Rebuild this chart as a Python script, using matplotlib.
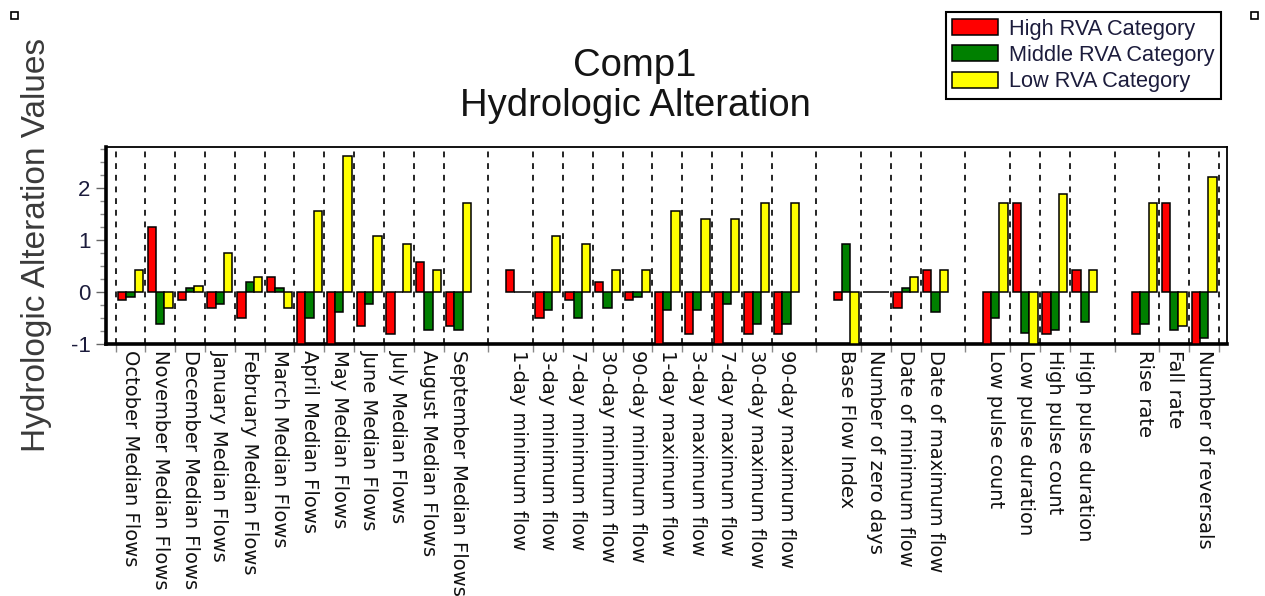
import matplotlib
matplotlib.use('Agg')
import numpy as np
import matplotlib.pyplot as plt
from matplotlib.patches import Rectangle
from matplotlib.ticker import MultipleLocator, FixedLocator

plt.rcParams['axes.unicode_minus'] = False

parameters = ['October Median Flows', 'November Median Flows', 'December Median Flows',
              'January Median Flows', 'February Median Flows', 'March Median Flows',
              'April Median Flows', 'May Median Flows', 'June Median Flows',
              'July Median Flows', 'August Median Flows', 'September Median Flows',
              '1-day minimum flow', '3-day minimum flow', '7-day minimum flow',
              '30-day minimum flow', '90-day minimum flow', '1-day maximum flow',
              '3-day maximum flow', '7-day maximum flow', '30-day maximum flow',
              '90-day maximum flow',
              'Base Flow Index', 'Number of zero days', 'Date of minimum flow',
              'Date of maximum flow',
              'Low pulse count', 'Low pulse duration', 'High pulse count',
              'High pulse duration',
              'Rise rate', 'Fall rate', 'Number of reversals']
group_sizes = [12, 10, 4, 4, 3]

high_rva = [-0.15, 1.24, -0.15, -0.31, -0.51, 0.28, -1.0, -1.0, -0.65, -0.81, 0.58, -0.65,
            0.42, -0.51, -0.15, 0.19, -0.15, -1.0, -0.81, -1.0, -0.81, -0.81,
            -0.15, 0.0, -0.31, 0.42,
            -1.0, 1.71, -0.81, 0.42,
            -0.81, 1.71, -1.0]
middle_rva = [-0.10, -0.62, 0.08, -0.23, 0.19, 0.08, -0.51, -0.39, -0.23, 0.0, -0.73, -0.74,
              0.0, -0.35, -0.51, -0.31, -0.10, -0.35, -0.35, -0.23, -0.62, -0.62,
              0.92, 0.0, 0.08, -0.39,
              -0.51, -0.78, -0.74, -0.57,
              -0.62, -0.74, -0.89]
low_rva = [0.42, -0.31, 0.12, 0.74, 0.28, -0.31, 1.56, 2.60, 1.08, 0.92, 0.42, 1.71,
           0.0, 1.08, 0.92, 0.42, 0.42, 1.56, 1.40, 1.40, 1.71, 1.71,
           -1.0, 0.0, 0.28, 0.42,
           1.71, -1.0, 1.87, 0.42,
           1.71, -0.65, 2.21]

# slot positions: one empty slot between the groups
xpos = []
grid_x = []
slot = 0
for g, n in enumerate(group_sizes):
    if g == 0:
        grid_x.append(slot - 0.5)
    else:
        grid_x.append(slot - 1)  # dashed line in the middle of the empty slot
    for i in range(n):
        xpos.append(slot + i)
        if i < n - 1:
            grid_x.append(slot + i + 0.5)
    slot += n + 1
grid_x.append(xpos[-1] + 0.5)
xpos = np.array(xpos)

W, H = 1265, 596
fig = plt.figure(figsize=(W / 100, H / 100), dpi=100)
ax = fig.add_axes([106 / W, (H - 344) / H, (1227 - 106) / W, (344 - 147) / H])

bw = 0.28
kw = dict(width=bw, edgecolor='black', linewidth=1.1, zorder=3)
ax.bar(xpos - bw, high_rva, color='#ff0000', label='High RVA Category', **kw)
ax.bar(xpos, middle_rva, color='#008000', label='Middle RVA Category', **kw)
ax.bar(xpos + bw, low_rva, color='#ffff00', label='Low RVA Category', **kw)

for gx in grid_x:
    ax.axvline(gx, color='black', linestyle=(0, (3.5, 3.5)), linewidth=1.2, zorder=1)

ax.set_xlim(-0.82, 36.77)
ax.set_ylim(-1, 2.78)

ax.set_xticks(xpos)
ax.set_xticklabels(parameters, rotation=-90, ha='center', va='top',
                   fontsize=14, family='DejaVu Sans', color='#111111')
ax.tick_params(axis='x', which='major', length=0, pad=4)
ax.xaxis.set_minor_locator(FixedLocator(grid_x))
ax.tick_params(axis='x', which='minor', length=6, width=1, color='#888888', direction='out')

ax.yaxis.set_major_locator(MultipleLocator(1))
ax.yaxis.set_minor_locator(MultipleLocator(0.25))
ax.tick_params(axis='y', which='major', length=7, width=1, color='#666666',
               labelsize=16, pad=4)
ax.tick_params(axis='y', which='minor', length=4, width=1, color='#888888')
for lab in ax.get_yticklabels():
    lab.set_family('Liberation Sans')
    lab.set_color('#1c1c3c')

for side in ['left', 'bottom']:
    ax.spines[side].set_linewidth(2.6)
for side in ['top', 'right']:
    ax.spines[side].set_linewidth(1.3)

fig.text(37 / W, 1 - 245 / H, 'Hydrologic Alteration Values', rotation=90,
         ha='center', va='center', fontsize=24, family='Liberation Sans', color='#3a3a3a')
fig.text(0.502, 1 - 66 / H, 'Comp1', ha='center', va='center',
         fontsize=27.5, family='Liberation Sans', color='#141414')
fig.text(0.502, 1 - 106 / H, 'Hydrologic Alteration', ha='center', va='center',
         fontsize=27.5, family='Liberation Sans', color='#141414')

leg = ax.legend(loc='upper right', bbox_to_anchor=(1221 / W, 1 - 12 / H),
                bbox_transform=fig.transFigure, borderaxespad=0, fancybox=False,
                framealpha=1, edgecolor='black', handlelength=2.1, handleheight=0.75,
                labelspacing=0.25, borderpad=0.3, handletextpad=0.5,
                prop={'family': 'Liberation Sans', 'size': 15.7})
leg.get_frame().set_linewidth(1.5)
for t in leg.get_texts():
    t.set_color('#1c1c3c')

# small marker squares in the corners
for x0 in (11, 1251):
    fig.patches.append(Rectangle((x0 / W, 1 - 19 / H), 7 / W, 7 / H, fill=False,
                                 edgecolor='black', linewidth=1.2,
                                 transform=fig.transFigure, figure=fig))

plt.savefig('out.png', dpi=100)
plt.close()
